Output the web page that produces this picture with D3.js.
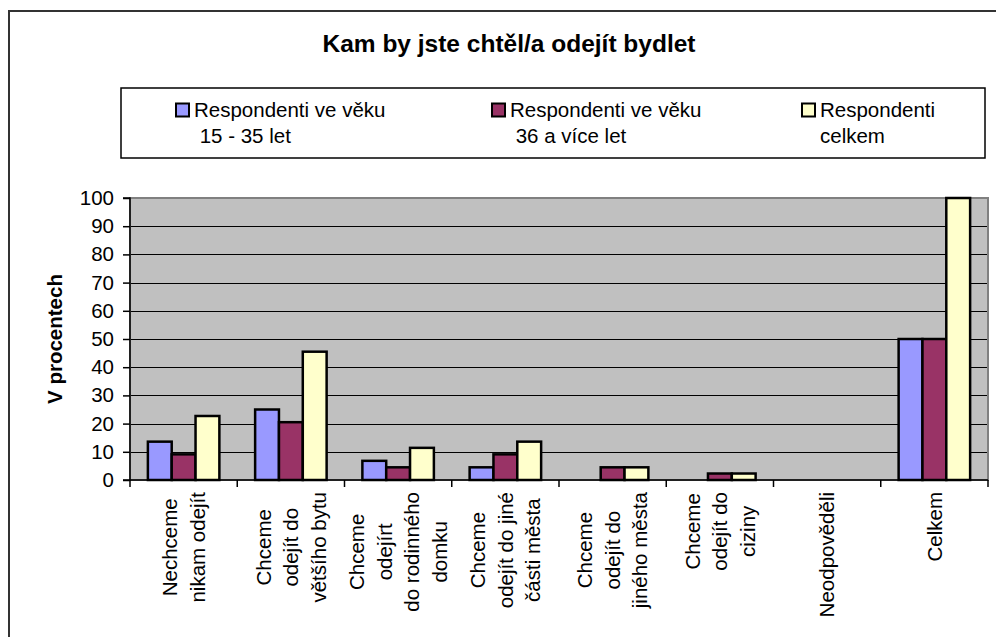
<!DOCTYPE html>
<html><head><meta charset="utf-8">
<script src="https://cdn.jsdelivr.net/npm/d3@7"></script>
<style>body{margin:0;background:#fff}svg{display:block;font-family:Arial,"Liberation Sans",sans-serif}</style>
</head><body><svg id="c" width="996" height="637"></svg>
<script>
const title = "Kam by jste chtěl/a odejít bydlet";
const yTitle = "V procentech";
const categories = [
  ["Nechceme", "nikam odejít"],
  ["Chceme", "odejít do", "většího bytu"],
  ["Chceme", "odejírt", "do rodinného", "domku"],
  ["Chceme", "odejít do jiné", "části města"],
  ["Chceme", "odejít do", "jiného města"],
  ["Chceme", "odejít do", "ciziny"],
  ["Neodpověděli"],
  ["Celkem"]
];
const seriesNames = [
  ["Respondenti ve věku", "\u00a015 - 35 let"],
  ["Respondenti ve věku", "\u00a036 a více let"],
  ["Respondenti", "celkem"]
];
const young = [13.6, 25.0, 6.8, 4.5, 0, 0, 0, 50];
const older = [9.1, 20.5, 4.5, 9.1, 4.5, 2.3, 0, 50];
const total = [22.7, 45.5, 11.4, 13.6, 4.5, 2.3, 0, 100];
const yTicks = [0, 10, 20, 30, 40, 50, 60, 70, 80, 90, 100];
const colors = ["#9999FF", "#993366", "#FFFFCC"];

const series = [young, older, total];
const svg = d3.select("#c");
const FS = 20.5;

// outer frame
svg.append("rect").attr("x", 9).attr("y", 11).attr("width", 1000).attr("height", 640)
  .attr("fill", "none").attr("stroke", "#333").attr("stroke-width", 2);

// title
svg.append("text").attr("x", 509).attr("y", 52).attr("text-anchor", "middle")
  .attr("font-size", 24.5).attr("font-weight", "bold").text(title);

// legend
svg.append("rect").attr("x", 121).attr("y", 88).attr("width", 864).attr("height", 70)
  .attr("fill", "#fff").attr("stroke", "#000").attr("stroke-width", 1.5);
const legX = [176, 492, 802];
seriesNames.forEach((lines, i) => {
  svg.append("rect").attr("x", legX[i]).attr("y", 103.5).attr("width", 13).attr("height", 13)
    .attr("fill", colors[i]).attr("stroke", "#000").attr("stroke-width", 2);
  const t = svg.append("text").attr("font-size", FS);
  lines.forEach((l, j) => {
    t.append("tspan").attr("x", legX[i] + 18).attr("y", 117 + j * 26).text(l);
  });
});

// plot
const L = 130, R = 988, T = 198, B = 480;
const x = d3.scaleBand().domain(d3.range(categories.length)).range([L, R]).padding(0);
const y = d3.scaleLinear().domain([0, 100]).range([B, T]);

svg.append("rect").attr("x", L).attr("y", T).attr("width", R - L).attr("height", B - T)
  .attr("fill", "#C0C0C0");

// gridlines
svg.append("g").selectAll("line").data(yTicks.filter(v => v > 0 && v < 100)).join("line")
  .attr("x1", L).attr("x2", R).attr("y1", d => Math.round(y(d)) + 0.5).attr("y2", d => Math.round(y(d)) + 0.5)
  .attr("stroke", "#000").attr("stroke-width", 1.2);

// plot border
svg.append("rect").attr("x", L).attr("y", T).attr("width", R - L).attr("height", B - T)
  .attr("fill", "none").attr("stroke", "#808080").attr("stroke-width", 2);

// bars
const bw = x.bandwidth() / 4.5;
const xs = d3.scaleBand().domain([0, 1, 2]).range([0, 3 * bw]).padding(0);
series.forEach((vals, si) => {
  svg.append("g").selectAll("rect").data(vals).join("rect")
    .attr("x", (d, i) => x(i) + (x.bandwidth() - 3 * bw) / 2 + xs(si))
    .attr("y", d => y(d))
    .attr("width", xs.bandwidth())
    .attr("height", d => B - y(d))
    .attr("fill", colors[si]).attr("stroke", "#000").attr("stroke-width", 2.5);
});

// y axis
const yAxis = d3.axisLeft(y).tickValues(yTicks).tickSize(7).tickPadding(9).tickFormat(d3.format("d"));
const ga = svg.append("g").attr("transform", `translate(${L},0)`).call(yAxis);
ga.select(".domain").attr("stroke", "#000").attr("stroke-width", 1.5).attr("d", `M-7,${T}H0V${B}H-7`);
ga.selectAll(".tick line").attr("stroke", "#000").attr("stroke-width", 1.5);
ga.selectAll("text").attr("font-size", FS).attr("font-family", "Arial,'Liberation Sans',sans-serif").attr("fill", "#000");

// x axis
const xAxis = d3.axisBottom(x).tickSize(0).tickFormat("");
const gx = svg.append("g").attr("transform", `translate(0,${B})`).call(xAxis);
gx.select(".domain").attr("stroke", "#000").attr("stroke-width", 1.5).attr("d", `M${L},0H${R}`);
svg.append("g").selectAll("line").data(d3.range(categories.length + 1)).join("line")
  .attr("x1", i => L + i * x.step()).attr("x2", i => L + i * x.step())
  .attr("y1", B).attr("y2", B + 7).attr("stroke", "#000").attr("stroke-width", 1.5);

// category labels (rotated, lines centered, block top near axis)
const LH = 27.5;
categories.forEach((lines, i) => {
  const cx = x(i) + x.bandwidth() / 2;
  const g = svg.append("g");
  const texts = lines.map(l => g.append("text").attr("font-size", FS).attr("text-anchor", "middle").text(l));
  const maxLen = d3.max(texts, t => t.node().getComputedTextLength());
  const n = lines.length;
  texts.forEach((t, j) => {
    const bx = cx + (j - (n - 1) / 2) * LH + FS * 0.35;
    const by = 492 + maxLen / 2;
    t.attr("transform", `translate(${bx},${by}) rotate(-90)`);
  });
});

// y title
svg.append("text").attr("transform", `translate(62,${(T + B) / 2}) rotate(-90)`)
  .attr("text-anchor", "middle").attr("font-size", FS).attr("font-weight", "bold").text(yTitle);
</script></body></html>
